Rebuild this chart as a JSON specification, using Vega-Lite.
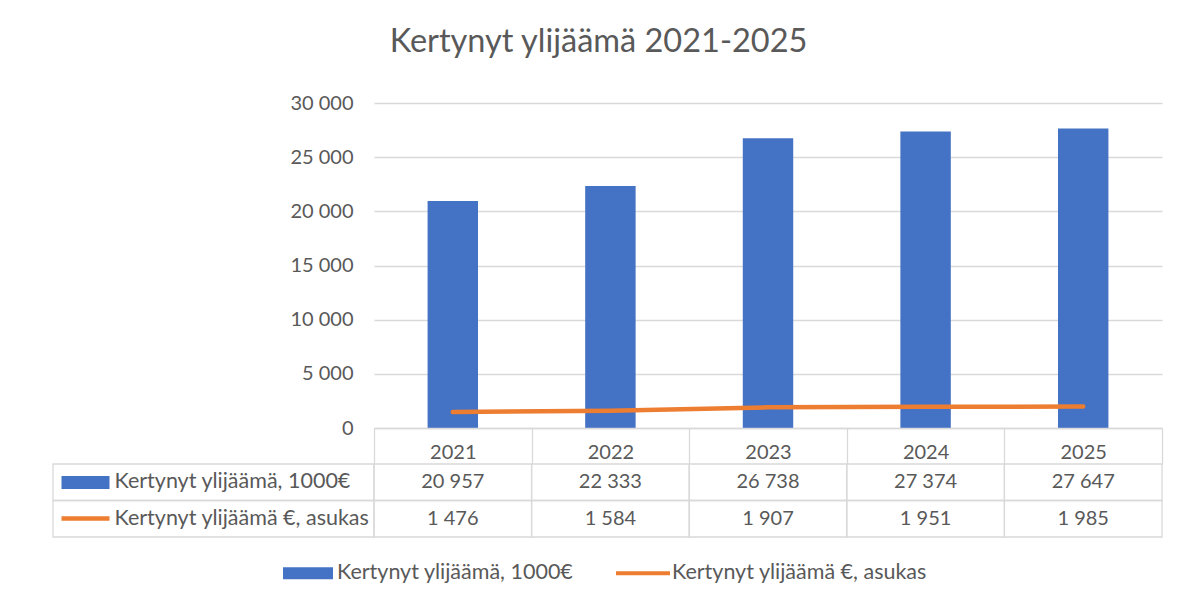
{
  "$schema": "https://vega.github.io/schema/vega-lite/v6.json",
  "padding": {"left": 52, "top": 25, "right": 10, "bottom": 0},
  "background": "white",
  "title": {"text": "Kertynyt ylijäämä 2021-2025", "fontSize": 32.5, "font": "Lato", "fontWeight": "normal", "color": "#595959", "anchor": "middle", "dx": -9, "offset": 35},
  "datasets": {
    "d": [
      {"year": "2021", "series": "Kertynyt ylijäämä, 1000€", "value": 20957},
      {"year": "2022", "series": "Kertynyt ylijäämä, 1000€", "value": 22333},
      {"year": "2023", "series": "Kertynyt ylijäämä, 1000€", "value": 26738},
      {"year": "2024", "series": "Kertynyt ylijäämä, 1000€", "value": 27374},
      {"year": "2025", "series": "Kertynyt ylijäämä, 1000€", "value": 27647},
      {"year": "2021", "series": "Kertynyt ylijäämä €, asukas", "value": 1476},
      {"year": "2022", "series": "Kertynyt ylijäämä €, asukas", "value": 1584},
      {"year": "2023", "series": "Kertynyt ylijäämä €, asukas", "value": 1907},
      {"year": "2024", "series": "Kertynyt ylijäämä €, asukas", "value": 1951},
      {"year": "2025", "series": "Kertynyt ylijäämä €, asukas", "value": 1985}
    ]
  },
  "columns": 2,
  "spacing": {"row": 36, "column": 0},
  "bounds": "flush",
  "concat": [
    {
      "width": 321, "height": 325,
      "data": {"values": [{"a": 1}]},
      "mark": {"type": "text"},
      "encoding": {"text": {"value": ""}}
    },
    {
      "width": 788, "height": 325,
      "data": {"name": "d"},
      "encoding": {
        "x": {"field": "year", "type": "nominal", "scale": {"paddingInner": 0, "paddingOuter": 0},
          "axis": {"title": null, "orient": "bottom", "tickBand": "extent", "tickSize": 36, "tickColor": "#d9d9d9", "tickWidth": 1.3, "domainColor": "#d9d9d9", "domainWidth": 1.3, "labelPadding": -12, "labelBaseline": "middle", "labelAngle": 0, "labelFontSize": 20, "labelColor": "#595959", "labelFont": "Lato", "zindex": 1}}
      },
      "layer": [
        {
          "transform": [{"filter": "datum.series == 'Kertynyt ylijäämä, 1000€'"}],
          "mark": {"type": "bar", "width": {"band": 0.32}},
          "encoding": {
            "y": {"field": "value", "type": "quantitative", "scale": {"domain": [0, 30000]},
              "axis": {"title": null, "values": [0, 5000, 10000, 15000, 20000, 25000, 30000], "format": ",d", "labelPadding": 21, "gridColor": "#d9d9d9", "gridWidth": 1.3, "domain": false, "ticks": false, "labelFontSize": 20, "labelColor": "#595959", "labelFont": "Lato"}},
            "color": {"field": "series", "type": "nominal",
              "scale": {"domain": ["Kertynyt ylijäämä, 1000€", "Kertynyt ylijäämä €, asukas"], "range": ["#4472c4", "#ed7d31"]},
              "legend": {"orient": "none", "legendX": 230, "legendY": 445, "direction": "horizontal", "title": null, "labelFontSize": 21.5, "labelColor": "#595959", "labelFont": "Lato", "symbolSize": 2500, "labelOffset": 4, "columnPadding": 42, "labelLimit": 400,
                "encode": {"symbols": {"update": {
                  "shape": [{"test": "datum.value == 'Kertynyt ylijäämä, 1000€'", "value": "M-1,-0.24H1V0.24H-1Z"}, {"value": "M-1.08,-0.08H1.08V0.08H-1.08Z"}],
                  "fill": [{"test": "datum.value == 'Kertynyt ylijäämä, 1000€'", "value": "#4472c4"}, {"value": "#ed7d31"}],
                  "stroke": {"value": "transparent"},
                  "strokeWidth": {"value": 0},
                  "opacity": {"value": 1},
                  "fillOpacity": {"value": 1}
                }}}}
            }
          }
        },
        {
          "transform": [{"filter": "datum.series == 'Kertynyt ylijäämä €, asukas'"}],
          "mark": {"type": "line", "strokeWidth": 4.5, "strokeCap": "round"},
          "encoding": {
            "y": {"field": "value", "type": "quantitative"},
            "color": {"field": "series", "type": "nominal"}
          }
        }
      ]
    },
    {
      "width": 321, "height": 73,
      "data": {"name": "d"},
      "transform": [{"filter": "datum.year == '2021'"}],
      "mark": {"type": "rect", "fill": "transparent", "stroke": "#d9d9d9", "strokeWidth": 1.3},
      "encoding": {
        "y": {"field": "series", "type": "nominal",
          "scale": {"domain": ["Kertynyt ylijäämä, 1000€", "Kertynyt ylijäämä €, asukas"], "paddingInner": 0, "paddingOuter": 0},
          "axis": {"title": null, "domain": false, "offset": -8, "tickSize": -48,
            "tickWidth": {"condition": {"test": "datum.value == 'Kertynyt ylijäämä, 1000€'", "value": 13}, "value": 4.5},
            "tickColor": {"condition": {"test": "datum.value == 'Kertynyt ylijäämä, 1000€'", "value": "#4472c4"}, "value": "#ed7d31"},
            "labelAlign": "left", "labelPadding": -5, "labelLimit": 320, "labelFontSize": 21.5, "labelColor": "#595959", "labelFont": "Lato", "zindex": 1}}
      }
    },
    {
      "width": 788, "height": 73,
      "data": {"name": "d"},
      "encoding": {
        "x": {"field": "year", "type": "nominal", "scale": {"paddingInner": 0, "paddingOuter": 0}, "axis": null},
        "y": {"field": "series", "type": "nominal",
          "scale": {"domain": ["Kertynyt ylijäämä, 1000€", "Kertynyt ylijäämä €, asukas"], "paddingInner": 0, "paddingOuter": 0}, "axis": null}
      },
      "layer": [
        {"mark": {"type": "rect", "fill": "transparent", "stroke": "#d9d9d9", "strokeWidth": 1.3}},
        {"mark": {"type": "text", "fontSize": 20, "color": "#595959", "font": "Lato"},
          "encoding": {"text": {"field": "value", "type": "quantitative", "format": ",d"}}}
      ]
    }
  ],
  "config": {
    "font": "Lato",
    "view": {"stroke": null},
    "locale": {"number": {"decimal": ",", "thousands": "\u00a0", "grouping": [3], "currency": ["", "\u00a0€"]}}
  }
}
